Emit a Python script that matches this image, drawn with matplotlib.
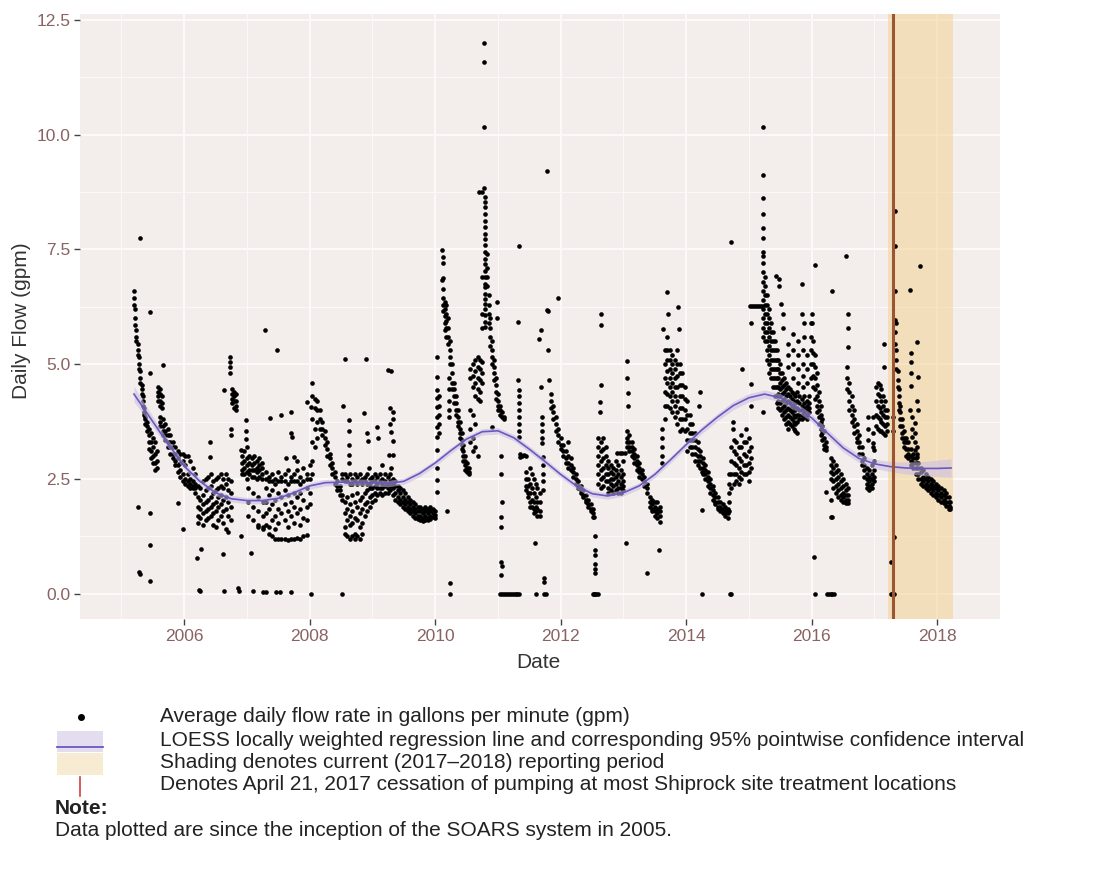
import matplotlib
matplotlib.use('Agg')
import matplotlib.pyplot as plt
from matplotlib.patches import Rectangle
from matplotlib.lines import Line2D

plt.rcParams['font.family'] = ['Liberation Sans', 'DejaVu Sans']

# ---------------- data (decimal year, daily flow values in gpm) ----------------
seg_2005 = [
    (2005.20, [6.6, 6.45, 6.3]), (2005.22, [6.2, 6.0, 5.85]), (2005.24, [5.75, 5.6, 5.5]),
    (2005.26, [5.45, 5.3, 5.2]), (2005.28, [5.15, 5.0, 4.9]), (2005.30, [4.85, 4.7, 4.6]),
    (2005.32, [4.55, 4.45, 4.35]), (2005.34, [4.3, 4.2, 4.1]), (2005.36, [4.05, 3.95, 3.9]),
    (2005.38, [3.85, 3.8, 3.7]), (2005.41, [3.75, 3.65, 3.55]), (2005.44, [3.6, 3.45, 3.3, 3.15]),
    (2005.47, [3.5, 3.3, 3.1, 2.95]), (2005.50, [3.4, 3.2, 3.0, 2.85]), (2005.53, [3.3, 3.05, 2.85, 2.7]),
    (2005.56, [3.1, 2.9, 2.75]), (2005.58, [4.5, 4.4, 4.3, 4.2]), (2005.61, [4.45, 4.35, 4.2, 4.1]),
    (2005.64, [4.3, 4.15, 4.05]), (2005.62, [3.85, 3.75, 3.65]), (2005.66, [3.8, 3.65, 3.55, 3.45]),
    (2005.70, [3.7, 3.55, 3.45, 3.35]), (2005.74, [3.6, 3.45, 3.3, 3.2]), (2005.78, [3.45, 3.3, 3.2, 3.05]),
    (2005.82, [3.3, 3.2, 3.05, 2.95]), (2005.86, [3.2, 3.05, 2.9, 2.8]), (2005.90, [3.1, 2.95, 2.8, 2.65]),
    (2005.94, [3.05, 2.85, 2.7, 2.55]), (2005.98, [3.05, 2.9, 2.6, 2.45]),
]
seg_2006 = [
    (2006.02, [3.0, 2.8, 2.5, 2.4]), (2006.06, [3.0, 2.6, 2.45, 2.35]), (2006.10, [2.9, 2.5, 2.4, 2.3]),
    (2006.14, [2.75, 2.45, 2.35, 2.3]), (2006.18, [2.6, 2.4, 2.3, 2.2]),
    (2006.22, [2.35, 2.1, 1.9, 1.7, 1.55]), (2006.26, [2.3, 2.05, 1.85, 1.65]),
    (2006.30, [2.45, 2.15, 1.95, 1.75, 1.5]), (2006.34, [2.5, 2.25, 2.0, 1.8, 1.6]),
    (2006.38, [2.55, 2.3, 2.05, 1.85, 1.65]), (2006.42, [2.6, 2.35, 2.1, 1.9, 1.7]),
    (2006.46, [2.45, 2.2, 1.95, 1.75, 1.5]), (2006.50, [2.5, 2.25, 2.0, 1.8, 1.45]),
    (2006.54, [2.55, 2.3, 2.1, 1.9, 1.6]), (2006.58, [2.6, 2.35, 2.15, 1.95, 1.7]),
    (2006.62, [2.5, 2.3, 2.05, 1.8, 1.55]), (2006.66, [2.6, 2.4, 2.1, 1.85, 1.4]),
    (2006.70, [2.5, 2.25, 2.0, 1.7, 1.35]), (2006.74, [2.45, 2.2, 1.9, 1.6]),
    (2006.73, [5.15, 5.05, 4.95, 4.8]), (2006.76, [4.45, 4.35, 4.25, 4.15]),
    (2006.79, [4.4, 4.3, 4.2, 4.05]), (2006.82, [4.35, 4.2, 4.1, 4.0]), (2006.75, [3.6, 3.45]),
    (2006.92, [3.0, 2.85, 2.7, 2.6]), (2006.96, [3.1, 2.9, 2.75, 2.6]),
]
seg_2007 = [
    (2007.00, [3.2, 2.95, 2.8, 2.65, 2.5]), (2007.04, [3.0, 2.85, 2.7, 2.6]),
    (2007.08, [2.95, 2.8, 2.7, 2.55]), (2007.12, [3.0, 2.85, 2.7, 2.55]),
    (2007.16, [2.9, 2.75, 2.65, 2.5]), (2007.20, [2.95, 2.8, 2.7, 2.55]),
    (2007.24, [2.85, 2.75, 2.6, 2.5]), (2007.02, [2.3, 2.0, 1.7]), (2007.10, [2.2, 1.9, 1.6]),
    (2007.18, [2.1, 1.8, 1.5, 1.45]), (2007.26, [2.0, 1.7, 1.45, 1.4]),
    (2007.30, [2.65, 2.5, 2.3, 2.0, 1.75, 1.5]), (2007.35, [2.55, 2.45, 2.15, 1.85, 1.45, 1.3]),
    (2007.40, [2.6, 2.45, 2.25, 1.95, 1.6, 1.25]), (2007.45, [2.5, 2.4, 2.05, 1.7, 1.4, 1.2]),
    (2007.50, [2.65, 2.45, 2.2, 1.85, 1.55, 1.2]), (2007.55, [2.55, 2.45, 2.1, 1.75, 1.2]),
    (2007.60, [2.6, 2.45, 2.25, 1.95, 1.6, 1.2]), (2007.65, [2.7, 2.4, 2.15, 1.8, 1.45, 1.18]),
    (2007.70, [2.55, 2.45, 2.0, 1.7, 1.2]), (2007.75, [2.6, 2.45, 2.2, 1.9, 1.55, 1.2]),
    (2007.80, [2.7, 2.45, 2.1, 1.75, 1.22]), (2007.85, [2.55, 2.4, 2.2, 1.85, 1.5, 1.2]),
    (2007.90, [2.75, 2.45, 2.05, 1.65, 1.25]), (2007.95, [2.6, 2.5, 2.3, 1.9, 1.6, 1.28]),
]
seg_2008 = [
    (2008.00, [2.8, 2.5, 2.2, 1.95]), (2008.04, [4.3, 3.8, 3.3, 2.9, 2.6]),
    (2008.08, [4.25, 4.05, 3.6, 3.2]), (2008.12, [4.2, 4.0, 3.75, 3.4]), (2008.16, [4.0, 3.8, 3.6]),
    (2008.20, [3.75, 3.6, 3.45]), (2008.24, [3.55, 3.4, 3.25]), (2008.28, [3.3, 3.15, 3.0]),
    (2008.32, [3.05, 2.95, 2.8]), (2008.36, [2.85, 2.75, 2.6]), (2008.40, [2.65, 2.55, 2.4]),
    (2008.44, [2.45, 2.35, 2.25]), (2008.48, [2.35, 2.25, 2.15]), (2008.52, [2.6, 2.5, 2.15, 2.05]),
    (2008.56, [2.6, 2.45, 2.0, 1.75, 1.45, 1.3]), (2008.60, [2.55, 2.45, 2.1, 1.85, 1.6, 1.25]),
    (2008.64, [2.6, 2.4, 1.95, 1.7, 1.5, 1.2]), (2008.68, [2.5, 2.4, 2.15, 1.8, 1.55, 1.25]),
    (2008.72, [2.6, 2.45, 2.0, 1.65, 1.3, 1.2]), (2008.76, [2.55, 2.4, 2.2, 1.9, 1.6, 1.25]),
    (2008.80, [2.6, 2.45, 2.05, 1.75, 1.45, 1.2]), (2008.84, [2.5, 2.4, 2.1, 1.85, 1.55, 1.3]),
    (2008.88, [2.55, 2.45, 2.2, 1.95, 1.7]), (2008.92, [2.6, 2.4, 2.25, 2.0, 1.8]),
    (2008.96, [2.5, 2.4, 2.3, 2.1, 1.9]),
]
seg_2009 = [
    (2009.00, [2.55, 2.45, 2.3, 2.15, 2.0]), (2009.04, [2.6, 2.45, 2.35, 2.2, 2.05]),
    (2009.08, [2.55, 2.4, 2.3, 2.15]), (2009.12, [2.6, 2.45, 2.3, 2.2]), (2009.16, [2.5, 2.4, 2.3, 2.15]),
    (2009.20, [2.6, 2.45, 2.35, 2.2]), (2009.24, [2.55, 2.4, 2.3, 2.2]), (2009.28, [2.6, 2.45, 2.35, 2.25]),
    (2009.32, [2.5, 2.4, 2.3, 2.15]), (2009.36, [2.45, 2.35, 2.2, 2.05]), (2009.40, [2.35, 2.25, 2.1, 2.0]),
    (2009.44, [2.3, 2.2, 2.05, 1.95]), (2009.48, [2.25, 2.1, 2.0, 1.9]), (2009.52, [2.2, 2.05, 1.95, 1.85]),
    (2009.56, [2.1, 2.0, 1.9, 1.8]), (2009.60, [2.05, 1.95, 1.85, 1.75]), (2009.64, [2.0, 1.9, 1.8, 1.7]),
    (2009.68, [1.95, 1.85, 1.75, 1.65]), (2009.72, [1.9, 1.8, 1.7, 1.62]), (2009.76, [1.9, 1.8, 1.7, 1.6]),
    (2009.80, [1.85, 1.75, 1.65, 1.58]), (2009.84, [1.9, 1.8, 1.7, 1.6]), (2009.88, [1.85, 1.75, 1.65, 1.6]),
    (2009.92, [1.9, 1.8, 1.7, 1.62]), (2009.96, [1.85, 1.75, 1.68]),
]
seg_2010 = [
    (2010.00, [1.8, 1.72, 1.65]),
    (2010.03, [5.15, 4.72, 4.43, 4.26, 4.07, 3.85, 3.63, 3.41, 3.13, 2.74, 2.48, 2.22]),
    (2010.06, [4.3, 4.1, 3.9, 3.7, 3.5]), (2010.11, [7.48, 6.84]),
    (2010.13, [7.33, 7.2, 6.87, 6.63, 6.45, 6.3, 6.15]), (2010.15, [6.35, 6.2, 6.05, 5.9, 5.75]),
    (2010.18, [6.3, 6.1, 5.95, 5.8, 5.6]), (2010.21, [6.0, 5.8, 5.6, 5.45]),
    (2010.22, [4.7, 4.45, 4.2, 4.0, 3.85]), (2010.24, [5.5, 5.3, 5.15, 5.0]),
    (2010.27, [5.0, 4.8, 4.6, 4.45]), (2010.30, [4.6, 4.45, 4.3, 4.15]), (2010.33, [4.3, 4.15, 4.0, 3.9]),
    (2010.36, [4.0, 3.85, 3.75, 3.65]), (2010.39, [3.75, 3.6, 3.5, 3.4]), (2010.42, [3.5, 3.35, 3.25, 3.15]),
    (2010.45, [3.25, 3.1, 3.0, 2.9]), (2010.48, [3.0, 2.9, 2.8, 2.7]), (2010.51, [2.85, 2.75, 2.65]),
    (2010.54, [2.75, 2.65, 2.6]), (2010.56, [4.9, 4.7, 4.0, 3.6, 3.3]),
    (2010.60, [5.0, 4.75, 4.5, 3.9, 3.4, 3.1]), (2010.64, [5.1, 4.85, 4.6, 4.3, 3.7, 3.2]),
    (2010.68, [5.15, 4.95, 4.7, 4.45, 4.25, 3.0]), (2010.72, [5.1, 4.9, 4.65, 4.4, 4.2]),
    (2010.75, [5.05, 4.8, 4.6]), (2010.77, [11.99, 11.59, 10.16, 8.84]), (2010.74, [8.76, 6.91, 6.1, 5.8]),
    (2010.79, [8.64, 8.53, 8.42, 8.28, 8.13, 7.98, 7.84, 7.73, 7.59, 7.44, 7.3, 7.19, 7.04, 6.9,
               6.75, 6.68, 6.54, 6.43, 6.32, 6.21, 6.07, 5.92, 5.81]),
    (2010.82, [7.4, 7.1, 6.9, 6.7]), (2010.85, [6.5, 6.3, 6.1, 5.9]), (2010.88, [6.0, 5.8, 5.6, 5.4]),
    (2010.91, [5.5, 5.3, 5.15, 5.0]), (2010.94, [5.1, 4.95, 4.8, 4.65]), (2010.97, [4.7, 4.55, 4.4, 4.25]),
]
seg_2011 = [
    (2011.00, [4.35, 4.2, 4.1, 4.0]), (2011.03, [4.1, 4.0, 3.9]), (2011.06, [3.95, 3.85]),
    (2011.09, [3.85, 3.8]), (2011.32, [5.92, 4.65]),
    (2011.33, [4.43, 4.3, 4.15, 4.0, 3.85, 3.7, 3.55, 3.42]),
    (2011.35, [3.05, 2.98]), (2011.38, [3.0]), (2011.41, [3.02]), (2011.44, [3.0]),
    (2011.45, [2.65, 2.5, 2.35, 2.25]), (2011.48, [2.5, 2.35, 2.2, 2.1]),
    (2011.51, [2.75, 2.4, 2.2, 2.0, 1.9]), (2011.54, [2.6, 2.3, 2.05, 1.9]),
    (2011.57, [2.5, 2.2, 2.0, 1.85, 1.75]), (2011.60, [2.4, 2.1, 1.9, 1.8]),
    (2011.63, [2.3, 2.0, 1.85, 1.7]), (2011.67, [2.2, 2.0, 1.8, 1.7]),
    (2011.70, [3.85, 3.7, 3.55, 3.4, 3.28]), (2011.71, [2.98, 2.8, 2.6, 2.45, 2.26]),
    (2011.84, [4.35, 4.2, 4.05]), (2011.88, [4.1, 3.95, 3.8]), (2011.92, [3.85, 3.7, 3.55]),
    (2011.96, [3.6, 3.45, 3.3]),
]
seg_2012 = [
    (2012.00, [3.4, 3.25, 3.15]), (2012.04, [3.25, 3.1, 3.0]), (2012.08, [3.1, 2.95, 2.85]),
    (2012.12, [3.3, 3.0, 2.85, 2.75]), (2012.16, [2.95, 2.8, 2.7]), (2012.20, [2.75, 2.65, 2.55]),
    (2012.24, [2.6, 2.5, 2.4]), (2012.28, [2.45, 2.35, 2.3]), (2012.32, [2.35, 2.25, 2.2]),
    (2012.36, [2.25, 2.15, 2.1]), (2012.40, [2.15, 2.05, 2.0]), (2012.44, [2.05, 1.95, 1.9]),
    (2012.48, [1.95, 1.85, 1.8]), (2012.52, [1.85, 1.75, 1.68]),
    (2012.55, [1.25, 0.95, 0.85, 0.65, 0.55, 0.45]),
    (2012.60, [3.4, 3.2, 3.0, 2.8, 2.6, 2.4]), (2012.64, [3.3, 3.1, 2.9, 2.7, 2.5, 2.3]),
    (2012.68, [3.4, 3.15, 2.95, 2.75, 2.55, 2.35]), (2012.72, [3.2, 3.0, 2.8, 2.6, 2.45]),
    (2012.76, [2.9, 2.75, 2.6, 2.45, 2.3, 2.2]), (2012.80, [2.8, 2.65, 2.5, 2.4, 2.25]),
    (2012.84, [2.75, 2.6, 2.5, 2.35, 2.2]), (2012.88, [2.9, 2.7, 2.55, 2.4, 2.25]),
    (2012.92, [2.8, 2.6, 2.45, 2.3, 2.2]), (2012.96, [2.7, 2.55, 2.4, 2.3, 2.2]),
    (2012.90, [3.07]), (2012.94, [3.07]), (2012.98, [3.07]),
]
seg_2013 = [
    (2013.00, [2.9, 2.6, 2.45, 2.35, 2.25]), (2013.02, [3.07]),
    (2013.05, [3.55, 3.4, 3.3, 3.2]), (2013.09, [3.45, 3.3, 3.2, 3.1]), (2013.13, [3.3, 3.2, 3.1, 3.0]),
    (2013.17, [3.15, 3.05, 2.95, 2.85]), (2013.21, [3.0, 2.9, 2.8, 2.7]), (2013.25, [2.85, 2.75, 2.65, 2.55]),
    (2013.29, [2.7, 2.6, 2.5]), (2013.33, [2.55, 2.45, 2.35]), (2013.37, [2.4, 2.3, 2.2]),
    (2013.42, [2.1, 2.0, 1.9]), (2013.46, [2.05, 1.95, 1.85, 1.8]), (2013.50, [2.0, 1.9, 1.8, 1.7]),
    (2013.54, [2.0, 1.85, 1.75, 1.65]), (2013.58, [1.9, 1.8, 1.7, 1.57]),
    (2013.62, [3.6, 3.4, 3.2, 3.0, 2.85]), (2013.66, [5.3, 5.0, 4.7, 4.4, 4.1, 3.8]),
    (2013.70, [5.6, 5.3, 5.1, 4.85, 4.6, 4.35, 4.1]), (2013.74, [5.3, 5.1, 4.9, 4.7, 4.5, 4.3, 4.05]),
    (2013.78, [5.2, 5.0, 4.8, 4.6, 4.4, 4.2, 3.95]), (2013.82, [5.1, 4.9, 4.7, 4.5, 4.3, 4.1, 3.85]),
    (2013.86, [5.3, 5.0, 4.75, 4.5, 4.2, 3.95, 3.7]), (2013.90, [5.0, 4.8, 4.55, 4.3, 4.05, 3.8, 3.55]),
    (2013.94, [4.8, 4.55, 4.3, 4.05, 3.8, 3.6]), (2013.98, [4.5, 4.25, 4.0, 3.8, 3.55]),
]
seg_2014 = [
    (2014.02, [4.2, 3.9, 3.6, 3.35, 3.1]), (2014.06, [3.9, 3.7, 3.5, 3.35, 3.2]),
    (2014.10, [3.7, 3.5, 3.35, 3.2, 3.05]), (2014.14, [3.5, 3.35, 3.2, 3.05, 2.9]),
    (2014.18, [3.3, 3.15, 3.0, 2.9, 2.8]), (2014.22, [3.1, 3.0, 2.9, 2.75]),
    (2014.26, [2.95, 2.85, 2.75, 2.6]), (2014.30, [2.8, 2.7, 2.6, 2.5]),
    (2014.34, [2.65, 2.55, 2.45, 2.35]), (2014.38, [2.5, 2.4, 2.3, 2.2]),
    (2014.42, [2.35, 2.25, 2.15, 2.05]), (2014.46, [2.2, 2.1, 2.0, 1.95]),
    (2014.50, [2.1, 2.0, 1.9, 1.85]), (2014.54, [2.0, 1.9, 1.85, 1.8]),
    (2014.58, [1.95, 1.85, 1.8, 1.75]), (2014.62, [1.9, 1.8, 1.75, 1.7]), (2014.66, [1.85, 1.75, 1.65]),
    (2014.68, [2.6, 2.4, 2.2, 2.0, 1.8]), (2014.72, [3.2, 2.9, 2.6, 2.3]),
    (2014.76, [3.35, 3.1, 2.85, 2.6, 2.4]), (2014.80, [3.3, 3.05, 2.8, 2.6, 2.45]),
    (2014.84, [3.2, 2.95, 2.75, 2.55, 2.4]), (2014.88, [3.45, 3.2, 2.9, 2.65, 2.5]),
    (2014.92, [3.3, 3.05, 2.8, 2.6]), (2014.96, [3.6, 3.3, 3.0, 2.8, 2.6]),
]
seg_2015 = [
    (2015.00, [3.4, 3.1, 2.85, 2.65, 2.45]), (2015.04, [3.2, 2.95, 2.75]),
    (2015.02, [6.26]), (2015.05, [6.26]), (2015.08, [6.26]), (2015.11, [6.26]),
    (2015.14, [6.26]), (2015.17, [6.26]), (2015.20, [6.26]),
    (2015.22, [10.16, 9.13, 8.62, 8.28, 7.97, 7.74, 7.45, 7.35]),
    (2015.23, [7.2, 7.0, 6.8, 6.6, 6.4, 6.2, 6.0, 5.8, 5.6]),
    (2015.26, [6.9, 6.7, 6.5, 6.3, 6.1, 5.9, 5.7, 5.5]),
    (2015.29, [6.5, 6.3, 6.1, 5.9, 5.7, 5.5, 5.3, 5.1]),
    (2015.32, [6.2, 6.0, 5.8, 5.6, 5.4, 5.2, 5.0, 4.8]),
    (2015.35, [5.9, 5.7, 5.5, 5.3, 5.1, 4.9, 4.7]), (2015.38, [5.7, 5.5, 5.3, 5.1, 4.9, 4.7, 4.5]),
    (2015.41, [5.5, 5.3, 5.1, 4.9, 4.7, 4.5, 4.3]), (2015.44, [5.3, 5.1, 4.9, 4.7, 4.5, 4.3, 4.15]),
    (2015.47, [5.1, 4.9, 4.7, 4.5, 4.35, 4.2, 4.05]), (2015.50, [5.0, 4.8, 4.6, 4.45, 4.3, 4.15, 4.0]),
    (2015.53, [4.8, 4.65, 4.5, 4.35, 4.2, 4.05, 3.9]), (2015.56, [4.7, 4.55, 4.4, 4.25, 4.1, 3.95, 3.8]),
    (2015.59, [4.6, 4.45, 4.3, 4.15, 4.0, 3.85, 3.7]), (2015.62, [4.5, 4.35, 4.2, 4.05, 3.9, 3.75, 3.6]),
    (2015.65, [4.45, 4.3, 4.15, 4.0, 3.85, 3.7]), (2015.68, [4.4, 4.25, 4.1, 3.95, 3.8, 3.65]),
    (2015.71, [4.35, 4.2, 4.05, 3.9, 3.75, 3.6]), (2015.74, [4.3, 4.15, 4.0, 3.85, 3.7, 3.55]),
    (2015.77, [4.4, 4.2, 4.05, 3.9, 3.75, 3.5]), (2015.80, [4.3, 4.15, 4.0, 3.9, 3.8]),
    (2015.84, [4.25, 4.1, 4.0, 3.9, 3.8]), (2015.88, [4.3, 4.15, 4.05, 3.95, 3.85]),
    (2015.92, [4.2, 4.1, 4.0, 3.9, 3.8]), (2015.96, [4.3, 4.15, 4.05, 3.95]),
    (2015.55, [6.1, 5.8]), (2015.62, [5.45, 5.2, 4.95]), (2015.70, [5.65, 5.3, 5.0, 4.7]),
    (2015.78, [5.5, 5.2, 4.9, 4.6]), (2015.86, [5.3, 5.0, 4.75, 4.5]), (2015.93, [5.2, 4.9, 4.6]),
    (2015.99, [5.9, 5.6, 5.3, 5.0, 4.7]),
]
seg_2016 = [
    (2016.02, [5.5, 5.25, 5.0, 4.75, 4.5]), (2016.05, [5.2, 4.95, 4.7, 4.45, 4.25]),
    (2016.08, [4.8, 4.55, 4.3, 4.1, 3.95]), (2016.11, [4.4, 4.2, 4.0, 3.85, 3.7]),
    (2016.14, [4.1, 3.9, 3.75, 3.6, 3.45]), (2016.17, [3.8, 3.65, 3.5, 3.35]),
    (2016.20, [3.55, 3.4, 3.25, 3.15]), (2016.23, [3.3, 3.2, 3.13]),
    (2016.30, [2.95, 2.8, 2.65, 2.5]), (2016.34, [2.9, 2.75, 2.6, 2.45, 2.3]),
    (2016.38, [2.8, 2.65, 2.5, 2.35, 2.2]), (2016.42, [2.7, 2.55, 2.4, 2.25, 2.1]),
    (2016.46, [2.6, 2.45, 2.3, 2.15, 2.05]), (2016.50, [2.5, 2.35, 2.2, 2.1, 2.0]),
    (2016.54, [2.4, 2.25, 2.15, 2.05, 1.97]), (2016.58, [2.3, 2.15, 2.05, 1.97]),
    (2016.56, [4.95, 4.7, 4.45]), (2016.60, [4.6, 4.4, 4.2, 4.0]), (2016.64, [4.3, 4.1, 3.9, 3.75]),
    (2016.68, [4.0, 3.8, 3.65, 3.5]), (2016.72, [3.7, 3.55, 3.4, 3.3]), (2016.76, [3.45, 3.3, 3.2, 3.05]),
    (2016.80, [3.2, 3.05, 2.9, 2.8]), (2016.84, [2.95, 2.8, 2.7, 2.55]),
    (2016.88, [2.75, 2.6, 2.5, 2.4, 2.3]), (2016.92, [2.7, 2.55, 2.45, 2.35, 2.25]),
    (2016.96, [2.8, 2.6, 2.5, 2.4, 2.3]), (2016.90, [3.85, 3.6, 3.35]), (2016.97, [3.5, 3.2]),
]
seg_2017 = [
    (2017.00, [2.9, 2.7, 2.55, 2.45]), (2017.02, [4.5, 4.2, 3.9, 3.65]),
    (2017.05, [4.6, 4.35, 4.1, 3.85, 3.6]), (2017.08, [4.55, 4.3, 4.05, 3.8, 3.55]),
    (2017.11, [4.45, 4.2, 3.95, 3.75, 3.55]), (2017.14, [4.3, 4.1, 3.9, 3.7, 3.5]),
    (2017.17, [4.2, 4.0, 3.85, 3.65, 3.45]), (2017.20, [4.0, 3.85, 3.7, 3.55]),
    (2017.33, [5.96, 5.7, 5.45]), (2017.35, [5.3, 5.1, 4.9]), (2017.37, [4.85, 4.65, 4.5]),
    (2017.39, [4.45, 4.3, 4.15, 4.0]), (2017.41, [4.1, 3.95, 3.8, 3.65]),
    (2017.44, [3.8, 3.65, 3.5, 3.4]), (2017.47, [3.55, 3.4, 3.3, 3.2]),
    (2017.50, [3.4, 3.3, 3.15, 3.0]), (2017.54, [3.3, 3.15, 3.05, 2.95]),
    (2017.58, [3.15, 3.0, 2.9, 2.8]), (2017.62, [3.05, 2.95, 2.85, 2.75]),
    (2017.66, [2.95, 2.85, 2.75, 2.6]), (2017.70, [2.85, 2.75, 2.6, 2.5]),
    (2017.74, [2.75, 2.65, 2.5, 2.4]), (2017.78, [2.7, 2.55, 2.45, 2.35]),
    (2017.82, [2.6, 2.5, 2.4, 2.3]), (2017.86, [2.55, 2.45, 2.35, 2.25]),
    (2017.90, [2.5, 2.4, 2.3, 2.2]), (2017.94, [2.45, 2.35, 2.25, 2.15]),
    (2017.98, [2.4, 2.3, 2.2, 2.1]),
    (2017.58, [5.24, 5.05, 4.82, 4.53]), (2017.57, [4.0]), (2017.60, [3.85, 3.6, 3.41]),
    (2017.64, [3.72, 3.5, 3.3, 3.13]), (2017.68, [3.2, 3.05, 2.98]), (2017.67, [4.2, 5.48]),
    (2017.69, [4.0, 4.72]),
]
seg_2018 = [
    (2018.02, [2.35, 2.25, 2.15, 2.05]), (2018.06, [2.3, 2.2, 2.1, 2.0]),
    (2018.10, [2.25, 2.15, 2.05, 1.98]), (2018.14, [2.2, 2.1, 2.0, 1.92]),
    (2018.18, [2.1, 2.0, 1.92, 1.85]), (2018.21, [2.0, 1.9, 1.85]),
]

# isolated readings (decimal year, value)
iso_points = [
    (2005.29, 7.76), (2005.45, 6.14), (2005.45, 4.81), (2005.67, 4.98), (2005.26, 1.9), (2005.45, 1.77),
    (2005.90, 1.97), (2005.98, 1.41), (2005.45, 1.07), (2005.28, 0.48), (2005.29, 0.42), (2005.45, 0.28),
    (2006.27, 0.97), (2006.20, 0.78), (2006.62, 0.87), (2006.23, 0.08), (2006.25, 0.05), (2006.63, 0.05),
    (2006.86, 0.12), (2006.88, 0.06), (2006.90, 1.26), (2006.63, 4.43), (2006.41, 3.3), (2006.41, 2.98),
    (2006.90, 3.13), (2006.98, 3.78), (2006.98, 3.55), (2006.98, 3.37),
    (2007.07, 0.89), (2007.09, 0.05), (2007.25, 0.03), (2007.31, 0.03), (2007.47, 0.03), (2007.52, 0.03),
    (2007.71, 0.03), (2008.02, 0.0), (2007.29, 5.74), (2007.48, 5.32), (2007.37, 3.82), (2007.55, 3.9),
    (2007.70, 3.96), (2007.70, 3.5), (2007.72, 3.42), (2007.75, 2.98), (2007.63, 2.95), (2007.80, 2.9),
    (2008.04, 4.59), (2008.02, 4.07), (2007.95, 4.17),
    (2008.57, 5.12), (2008.89, 5.12), (2009.24, 4.88), (2009.30, 4.86), (2008.53, 4.1), (2008.87, 3.93),
    (2009.28, 4.04), (2009.33, 3.97), (2008.62, 3.78), (2008.62, 3.55), (2008.62, 3.25), (2008.62, 3.02),
    (2008.92, 3.5), (2008.93, 3.33), (2009.08, 3.63), (2009.09, 3.4), (2009.28, 3.7), (2009.29, 3.53),
    (2009.33, 3.81), (2009.33, 3.33), (2009.27, 3.02), (2009.33, 3.02), (2008.52, 0.0),
    (2008.62, 2.85), (2008.95, 2.75), (2009.15, 2.8), (2009.30, 2.75),
    (2010.19, 1.8), (2010.24, 0.23), (2010.70, 8.76), (2010.98, 6.35), (2010.98, 6.0), (2010.90, 3.63),
    (2011.05, 3.0), (2011.05, 2.6), (2011.06, 2.0), (2011.05, 1.68), (2011.05, 1.45), (2011.05, 0.7),
    (2011.06, 0.6), (2011.05, 0.4), (2011.33, 7.57), (2011.78, 9.2), (2011.78, 6.19), (2011.96, 6.44),
    (2011.69, 5.74), (2011.69, 4.5), (2011.80, 6.17), (2011.80, 5.3), (2011.81, 4.65), (2011.66, 5.54),
    (2011.59, 1.1), (2011.73, 0.35), (2011.74, 0.25),
    (2012.64, 6.1), (2012.64, 5.85), (2012.64, 4.54), (2012.62, 4.18), (2012.63, 3.95), (2012.53, 1.68),
    (2013.06, 5.08), (2013.06, 4.7), (2013.07, 4.37), (2013.07, 4.1), (2013.04, 1.1), (2013.56, 0.95),
    (2013.37, 0.45), (2013.70, 6.57), (2013.71, 6.1), (2013.63, 5.76), (2013.87, 6.24), (2013.88, 5.76),
    (2014.22, 4.39), (2014.20, 4.1), (2014.25, 2.65), (2014.25, 1.83), (2014.72, 7.66), (2014.74, 3.74),
    (2014.74, 3.6), (2014.89, 4.9), (2015.04, 4.58), (2015.04, 4.1), (2015.04, 5.9), (2015.23, 3.95),
    (2015.43, 6.93), (2015.48, 6.85), (2015.48, 6.7), (2015.51, 6.32), (2015.84, 6.74), (2015.84, 6.1),
    (2016.00, 6.1), (2015.87, 5.9), (2016.00, 5.9), (2015.87, 5.6), (2016.05, 7.17), (2016.32, 6.6),
    (2016.55, 7.35), (2016.58, 6.1), (2016.57, 5.8), (2016.58, 5.38),
    (2016.22, 2.22), (2016.31, 2.04), (2016.31, 1.68), (2016.33, 1.68), (2016.03, 0.8),
    (2017.15, 5.45), (2017.15, 4.93), (2016.98, 3.85), (2016.98, 3.28), (2016.99, 3.13),
    (2017.30, 3.85), (2017.30, 3.55), (2017.31, 1.24), (2017.26, 0.7),
    (2017.33, 8.33), (2017.33, 7.57), (2017.33, 6.6), (2017.34, 5.9), (2017.72, 7.15), (2017.57, 6.62),
]
zero_days = [2011.04, 2011.07, 2011.10, 2011.13, 2011.16, 2011.19, 2011.22, 2011.25, 2011.28, 2011.31,
             2011.34, 2011.61, 2011.73, 2011.76, 2010.24, 2012.51, 2012.53, 2012.55, 2012.57, 2012.59,
             2014.25, 2014.69, 2014.72, 2016.05, 2016.24, 2016.27, 2016.30, 2016.33, 2016.36,
             2017.26, 2017.28, 2017.31]

# LOESS fit
loess_t = [2005.20, 2005.45, 2005.70, 2006.00, 2006.25, 2006.50, 2006.75, 2007.00, 2007.25, 2007.50,
           2007.75, 2008.00, 2008.25, 2008.50, 2008.75, 2009.00, 2009.25, 2009.50, 2009.75, 2010.00,
           2010.25, 2010.50, 2010.75, 2011.00, 2011.25, 2011.50, 2011.75, 2012.00, 2012.25, 2012.50,
           2012.75, 2013.00, 2013.25, 2013.50, 2013.75, 2014.00, 2014.25, 2014.50, 2014.75, 2015.00,
           2015.25, 2015.50, 2015.75, 2016.00, 2016.25, 2016.50, 2016.75, 2017.00, 2017.25, 2017.50,
           2017.75, 2018.00, 2018.22]
loess_v = [4.35, 3.85, 3.35, 2.78, 2.45, 2.2, 2.07, 2.03, 2.03, 2.08,
           2.2, 2.35, 2.42, 2.43, 2.43, 2.42, 2.4, 2.45, 2.62, 2.85,
           3.12, 3.37, 3.53, 3.55, 3.4, 3.15, 2.88, 2.6, 2.35, 2.18,
           2.13, 2.2, 2.35, 2.6, 2.92, 3.25, 3.57, 3.85, 4.1, 4.27,
           4.35, 4.27, 4.07, 3.83, 3.5, 3.18, 2.95, 2.83, 2.77, 2.74,
           2.73, 2.73, 2.74]
loess_hw = [0.17, 0.12, 0.09, 0.08, 0.07, 0.07, 0.07, 0.07, 0.07, 0.07,
            0.07, 0.07, 0.07, 0.07, 0.07, 0.07, 0.07, 0.07, 0.07, 0.07,
            0.07, 0.07, 0.07, 0.07, 0.07, 0.07, 0.07, 0.07, 0.07, 0.07,
            0.07, 0.07, 0.07, 0.07, 0.07, 0.07, 0.08, 0.08, 0.09, 0.09,
            0.09, 0.09, 0.09, 0.09, 0.09, 0.09, 0.09, 0.1, 0.11, 0.13,
            0.15, 0.18, 0.2]

shade_start, shade_end = 2017.22, 2018.25
cessation = 2017.30
x_ticks = [2006, 2008, 2010, 2012, 2014, 2016, 2018]
y_ticks = [0.0, 2.5, 5.0, 7.5, 10.0, 12.5]

# ---------------- assemble points ----------------
t_all, v_all = [], []
for seg in [seg_2005, seg_2006, seg_2007, seg_2008, seg_2009, seg_2010, seg_2011,
            seg_2012, seg_2013, seg_2014, seg_2015, seg_2016, seg_2017, seg_2018]:
    for t, vals in seg:
        for v in vals:
            t_all.append(t)
            v_all.append(v)
for t, v in iso_points:
    t_all.append(t)
    v_all.append(v)
for t in zero_days:
    t_all.append(t)
    v_all.append(0.0)

# ---------------- figure ----------------
W, H = 1110, 874
fig = plt.figure(figsize=(W / 100, H / 100), dpi=100)
fig.patch.set_facecolor('white')
ax = fig.add_axes([80 / W, 1 - 619 / H, 920 / W, 605 / H])
ax.set_facecolor('#F3EDEB')
ax.set_xlim(2004.34, 2018.87)
ax.set_ylim(-0.55, 12.63)

ax.set_xticks(x_ticks)
ax.set_xticklabels([str(x) for x in x_ticks])
ax.set_xticks([2005, 2007, 2009, 2011, 2013, 2015, 2017, 2019], minor=True)
ax.set_yticks(y_ticks)
ax.set_yticklabels(['%.1f' % y for y in y_ticks])
ax.set_yticks([1.25, 3.75, 6.25, 8.75, 11.25], minor=True)
ax.grid(which='major', color='#FDFBFA', lw=1.3, zorder=0)
ax.grid(which='minor', color='#FBF8F7', lw=0.8, zorder=0)
ax.set_axisbelow(True)
for s in ax.spines.values():
    s.set_visible(False)
tick_col = '#8A6262'
ax.tick_params(which='major', length=4, width=1, color='#444444', labelsize=12.5,
               labelcolor=tick_col, pad=3)
ax.tick_params(which='minor', length=0)

ax.axvspan(shade_start, shade_end, color='#F1CF85', alpha=0.48, lw=0, zorder=1)
ax.scatter(t_all, v_all, s=11, c='black', marker='o', linewidths=0, zorder=2)
lo = [v - h for v, h in zip(loess_v, loess_hw)]
hi = [v + h for v, h in zip(loess_v, loess_hw)]
ax.fill_between(loess_t, lo, hi, color='#C9BCE6', alpha=0.55, lw=0, zorder=3)
ax.plot(loess_t, loess_v, color='#6A58C0', lw=1.2, zorder=4)
ax.axvline(cessation, color='#9B5532', lw=2.2, zorder=5)

fig.text(22 / W, 1 - 321 / H, 'Daily Flow (gpm)', rotation=90, ha='center', va='center',
         fontsize=15, color='#333333')
fig.text(538 / W, 1 - 662 / H, 'Date', ha='center', va='center', fontsize=15, color='#333333')

# ---------------- legend / notes ----------------
def fy(py):
    return 1 - py / H

fs_leg = 15
fig.add_artist(Line2D([81 / W], [fy(717)], marker='o', markersize=4, color='black', lw=0))
fig.add_artist(Rectangle((57 / W, fy(752)), 46 / W, 21 / H, transform=fig.transFigure,
                         facecolor='#E4DDF0', edgecolor='none'))
fig.add_artist(Line2D([57 / W, 103 / W], [fy(747), fy(747)], color='#6A58C0', lw=1.3))
fig.add_artist(Rectangle((57 / W, fy(775)), 46 / W, 22 / H, transform=fig.transFigure,
                         facecolor='#F8EBD3', edgecolor='none'))
fig.add_artist(Line2D([80 / W, 80 / W], [fy(777), fy(796)], color='#D04040', lw=1.2))

legend_rows = [
    (717, 'Average daily flow rate in gallons per minute (gpm)'),
    (740, 'LOESS locally weighted regression line and corresponding 95% pointwise confidence interval'),
    (762, 'Shading denotes current (2017\u20132018) reporting period'),
    (785, 'Denotes April 21, 2017 cessation of pumping at most Shiprock site treatment locations'),
]
for py, txt in legend_rows:
    fig.text(160 / W, fy(py), txt, ha='left', va='center', fontsize=fs_leg, color='#222222')
fig.text(55 / W, fy(808), 'Note:', ha='left', va='center', fontsize=fs_leg, fontweight='bold',
         color='#222222')
fig.text(55 / W, fy(831), 'Data plotted are since the inception of the SOARS system in 2005.',
         ha='left', va='center', fontsize=fs_leg, color='#222222')

fig.savefig('out.png', dpi=100)
